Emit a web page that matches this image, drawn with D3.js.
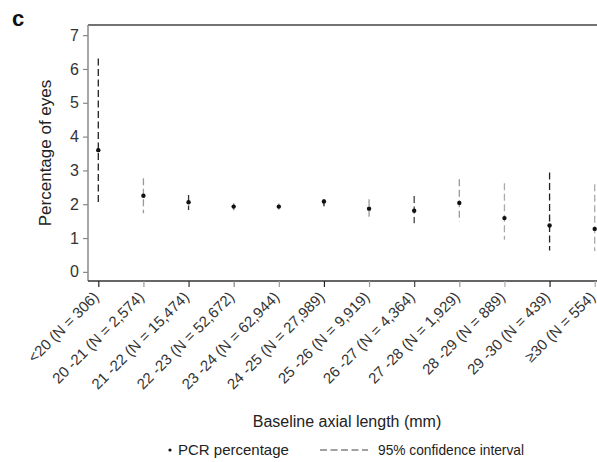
<!DOCTYPE html>
<html>
<head>
<meta charset="utf-8">
<script src="https://cdn.jsdelivr.net/npm/d3@7"></script>
<style>
  html, body { margin: 0; padding: 0; background: #fff; }
  svg { display: block; font-family: "Liberation Sans", Arial, sans-serif; }
</style>
</head>
<body>
<svg id="chart" width="597" height="462"></svg>
<script>
// ---- data ----
const categories = ["<20 (N = 306)", "20 -21 (N = 2,574)", "21 -22 (N = 15,474)", "22 -23 (N = 52,672)",
  "23 -24 (N = 62,944)", "24 -25 (N = 27,989)", "25 -26 (N = 9,919)", "26 -27 (N = 4,364)",
  "27 -28 (N = 1,929)", "28 -29 (N = 889)", "29 -30 (N = 439)", "\u226530 (N = 554)"];
const pcr     = [3.60, 2.25, 2.06, 1.93, 1.93, 2.08, 1.87, 1.81, 2.04, 1.59, 1.37, 1.27];
const ciLow   = [2.03, 1.73, 1.83, 1.82, 1.84, 1.91, 1.63, 1.44, 1.49, 0.95, 0.63, 0.62];
const ciHigh  = [6.31, 2.77, 2.27, 2.03, 2.02, 2.15, 2.15, 2.24, 2.74, 2.62, 2.94, 2.59];
const yTicks  = [0, 1, 2, 3, 4, 5, 6, 7];

// ---- styling (per-category shade of the CI line / tick) ----
const shade = ["#222", "#999", "#333", "#888", "#999", "#222", "#999", "#444", "#999", "#aaa", "#222", "#aaa"];

const svg = d3.select("#chart");
const pLeft = 88, pRight = 605, pTop = 25, pBottom = 281;

const x = d3.scalePoint().domain(categories).range([98.3, 594.7]);
const y = d3.scaleLinear().domain([-0.27, 7.3]).range([pBottom, pTop]);

// panel letter
svg.append("text").attr("x", 12).attr("y", 26).attr("font-size", 22).attr("font-weight", "bold")
  .attr("fill", "#111").text("c");

// frame top line
svg.append("line").attr("x1", pLeft).attr("x2", pRight).attr("y1", pTop).attr("y2", pTop)
  .attr("stroke", "#444").attr("stroke-width", 1.5);

// y axis
const yAxis = svg.append("g").attr("transform", `translate(${pLeft},0)`)
  .call(d3.axisLeft(y).tickValues(yTicks).tickFormat(d3.format("d")).tickSize(5).tickPadding(4));
yAxis.select(".domain").attr("stroke", "#888").attr("stroke-width", 1.5).attr("d", `M0,${pTop}V${pBottom}`);
yAxis.selectAll(".tick line").attr("stroke", "#888").attr("stroke-width", 1.2);
yAxis.selectAll(".tick text").attr("font-size", 16).attr("fill", "#333")
  .attr("font-family", "Liberation Sans, Arial, sans-serif");

// x axis
const xAxis = svg.append("g").attr("transform", `translate(0,${pBottom})`)
  .call(d3.axisBottom(x).tickSize(6).tickPadding(4));
xAxis.select(".domain").attr("stroke", "#333").attr("stroke-width", 1.5).attr("d", `M${pLeft},0H${pRight}`);
xAxis.selectAll(".tick line").attr("stroke", (d, i) => shade[i]).attr("stroke-width", 1.2);
xAxis.selectAll(".tick text")
  .attr("font-size", 15).attr("fill", "#333")
  .attr("font-family", "Liberation Sans, Arial, sans-serif")
  .attr("text-anchor", "end")
  .attr("dy", null)
  .attr("transform", "translate(1,17) rotate(-45)")
  .attr("y", 0).attr("x", 0);

// CI lines
const data = categories.map((c, i) => ({ c, i, v: pcr[i], lo: ciLow[i], hi: ciHigh[i] }));
svg.append("g").selectAll("line").data(data).join("line")
  .attr("x1", d => x(d.c)).attr("x2", d => x(d.c))
  .attr("y1", d => y(d.hi)).attr("y2", d => y(d.lo))
  .attr("stroke", d => shade[d.i]).attr("stroke-width", 1.3)
  .attr("stroke-dasharray", "7,3.5");

// points
svg.append("g").selectAll("circle").data(data).join("circle")
  .attr("cx", d => x(d.c)).attr("cy", d => y(d.v)).attr("r", 2.2).attr("fill", "#111");

// axis titles
svg.append("text").attr("transform", "translate(51,153) rotate(-90)")
  .attr("text-anchor", "middle").attr("font-size", 17).attr("fill", "#222")
  .text("Percentage of eyes");
svg.append("text").attr("x", 347).attr("y", 427)
  .attr("text-anchor", "middle").attr("font-size", 16).attr("fill", "#222")
  .text("Baseline axial length (mm)");

// legend
const ly = 455;
svg.append("circle").attr("cx", 170).attr("cy", ly - 5).attr("r", 1.6).attr("fill", "#111");
svg.append("text").attr("x", 178).attr("y", ly).attr("font-size", 15).attr("fill", "#222").text("PCR percentage");
svg.append("line").attr("x1", 320).attr("x2", 368).attr("y1", ly - 5).attr("y2", ly - 5)
  .attr("stroke", "#444").attr("stroke-width", 1.1).attr("stroke-dasharray", "7,3.5");
svg.append("text").attr("x", 378).attr("y", ly).attr("font-size", 15).attr("fill", "#222")
  .attr("textLength", 146).attr("lengthAdjust", "spacingAndGlyphs").text("95% confidence interval");
</script>
</body>
</html>
